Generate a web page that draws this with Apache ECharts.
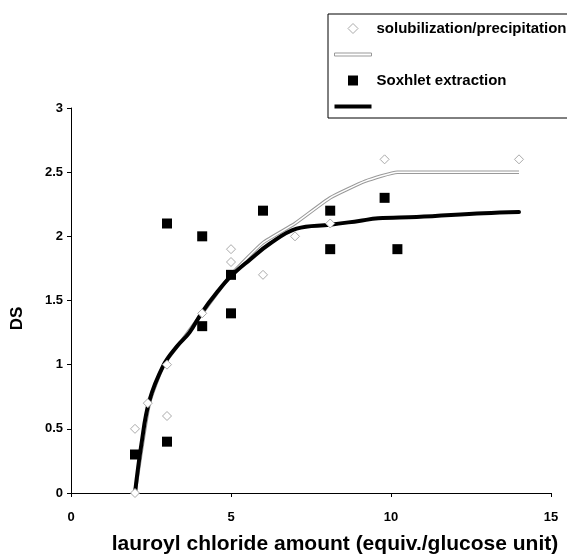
<!DOCTYPE html>
<html>
<head>
<meta charset="utf-8">
<script src="https://cdn.jsdelivr.net/npm/echarts@6/dist/echarts.min.js"></script>
<style>
  html, body { margin: 0; padding: 0; background: #fff; }
  #chart { width: 567px; height: 560px; }
</style>
</head>
<body>
<div id="chart"></div>
<script>
// solubilization/precipitation measured points [equiv., DS]
var solubPoints = [
  [2, 0], [2, 0.5], [2.4, 0.7], [3, 0.6], [3, 1.0], [4.1, 1.4],
  [5, 1.9], [5, 1.8], [6, 1.7], [7, 2.0], [8.1, 2.1], [9.8, 2.6], [14, 2.6]
];
// Soxhlet extraction measured points
var soxhletPoints = [
  [2, 0.3], [3, 0.4], [3, 2.1], [4.1, 2.0], [4.1, 1.3], [5, 1.7],
  [5, 1.4], [6, 2.2], [8.1, 2.2], [8.1, 1.9], [9.8, 2.3], [10.2, 1.9]
];
// trend curves
var solubCurve = [
  [2, 0], [2.45, 0.7], [2.9, 1.0], [3.5, 1.2], [4.1, 1.4], [5, 1.7], [6, 1.95],
  [7, 2.1], [8.1, 2.3], [9.2, 2.43], [10.2, 2.5], [14, 2.5]
];
var soxhletCurve = [
  [2, 0], [2.2, 0.38], [2.45, 0.72], [2.9, 1.0], [3.3, 1.14], [3.7, 1.25], [4.1, 1.41],
  [4.55, 1.56], [5, 1.69], [5.6, 1.82], [6.2, 1.94], [7.05, 2.06], [8.1, 2.09],
  [9, 2.12], [9.6, 2.14], [10.8, 2.15], [12.9, 2.18], [14, 2.19]
];
var xTicks = [0, 5, 10, 15];
var yTicks = [0, 0.5, 1, 1.5, 2, 2.5, 3];

var nameSolub = 'solubilization/precipitation';
var nameSolubLine = ' ';
var nameSox = 'Soxhlet extraction';
var nameSoxLine = '  ';

var chart = echarts.init(document.getElementById('chart'));
var font = 'Liberation Sans, Arial, sans-serif';

chart.setOption({
  backgroundColor: '#fff',
  animation: false,
  textStyle: { fontFamily: font },
  grid: { left: 71, right: 16, top: 108, bottom: 66 },
  legend: {
    orient: 'vertical',
    left: 328,
    top: 14,
    padding: [7, 12, 4, 6],
    borderColor: '#000',
    borderWidth: 1,
    backgroundColor: '#fff',
    itemWidth: 37,
    itemHeight: 10,
    itemGap: 11,
    selectedMode: false,
    textStyle: { fontFamily: font, fontWeight: 'bold', fontSize: 15, color: '#000' },
    data: [
      { name: nameSolub, icon: 'path://M4,0L8,4L4,8L0,4Z',
        itemStyle: { color: '#fff', borderColor: '#aaa', borderWidth: 1 } },
      { name: nameSolubLine, icon: 'path://M0,0H37V3H0Z',
        itemStyle: { color: '#fff', borderColor: '#999', borderWidth: 1 } },
      { name: nameSox, icon: 'path://M0,0H8V8H0Z',
        itemStyle: { color: '#000' } },
      { name: nameSoxLine, icon: 'path://M0,0H37V4H0Z',
        itemStyle: { color: '#000' } }
    ]
  },
  xAxis: {
    type: 'value',
    min: 0, max: 15, interval: 5,
    name: 'lauroyl chloride amount (equiv./glucose unit)',
    nameLocation: 'middle',
    nameGap: 41,
    nameTextStyle: { fontFamily: font, fontWeight: 'bold', fontSize: 21, color: '#000', padding: [0, 0, 0, 48] },
    axisLine: { lineStyle: { color: '#000', width: 1 } },
    axisTick: { length: 4, lineStyle: { color: '#000' } },
    axisLabel: {
      fontFamily: font, fontWeight: 'bold', fontSize: 13, color: '#000', margin: 18,
      formatter: function (v) { return xTicks.indexOf(v) >= 0 ? String(v) : ''; }
    },
    splitLine: { show: false }
  },
  yAxis: {
    type: 'value',
    min: 0, max: 3, interval: 0.5,
    name: 'DS',
    nameLocation: 'middle',
    nameGap: 45,
    nameTextStyle: { fontFamily: font, fontWeight: 'bold', fontSize: 17, color: '#000', padding: [0, 36, 0, 0] },
    axisLine: { show: true, lineStyle: { color: '#000', width: 1 } },
    axisTick: { show: true, length: 4, lineStyle: { color: '#000' } },
    axisLabel: {
      fontFamily: font, fontWeight: 'bold', fontSize: 13, color: '#000', margin: 8,
      formatter: function (v) { return yTicks.indexOf(v) >= 0 ? String(v) : ''; }
    },
    splitLine: { show: false }
  },
  series: [
    {
      name: nameSolubLine,
      type: 'line',
      data: solubCurve,
      smooth: 0.15,
      symbol: 'none',
      z: 2,
      lineStyle: { color: '#999', width: 3.5 },
      itemStyle: { color: '#999' }
    },
    {
      name: 'solub-inner',
      type: 'line',
      data: solubCurve,
      smooth: 0.15,
      symbol: 'none',
      z: 2,
      lineStyle: { color: '#fff', width: 1.5 },
      itemStyle: { color: '#fff' }
    },
    {
      name: nameSoxLine,
      type: 'line',
      data: soxhletCurve,
      smooth: 0.4,
      symbol: 'none',
      z: 3,
      lineStyle: { color: '#000', width: 4, cap: 'round', join: 'round' },
      itemStyle: { color: '#000' }
    },
    {
      name: nameSolub,
      type: 'scatter',
      data: solubPoints,
      symbol: 'diamond',
      symbolSize: 9,
      z: 4,
      itemStyle: { color: '#fff', borderColor: '#aaa', borderWidth: 1, opacity: 1 }
    },
    {
      name: nameSox,
      type: 'scatter',
      data: soxhletPoints,
      symbol: 'rect',
      symbolSize: 10,
      z: 5,
      itemStyle: { color: '#000', opacity: 1 }
    }
  ]
});
</script>
</body>
</html>
